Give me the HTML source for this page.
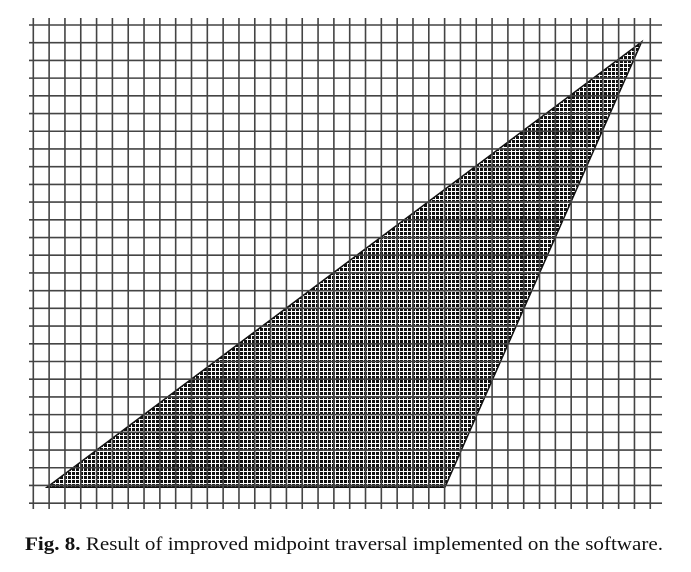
<!DOCTYPE html>
<html><head><meta charset="utf-8"><style>
html,body{margin:0;padding:0;background:#fff;width:691px;height:572px;overflow:hidden}
svg{position:absolute;left:0;top:0}
</style></head><body>
<svg id="chart" width="691" height="572">
<text x="25" y="550" textLength="638" lengthAdjust="spacingAndGlyphs" font-family="Liberation Serif, serif" font-size="18.5" fill="#111"><tspan font-weight="bold">Fig. 8.</tspan> Result of improved midpoint traversal implemented on the software.</text>
</svg>
<script>
// grid dimensions (cells) and triangle vertices in grid units
const gridCols = [40];
const gridRows = [28];
const triX = [0.87, 26.02, 38.45];
const triY = [26.1, 26.1, 0.96];

const NS = "http://www.w3.org/2000/svg";
const svg = document.getElementById('chart');
const x0 = 33.3, dx = 15.82, y0 = 25, dy = 17.71;
const sx = v => x0 + v * dx;
const sy = v => y0 + v * dy;
function mk(tag, attrs) { const e = document.createElementNS(NS, tag); for (const k in attrs) e.setAttribute(k, attrs[k]); svg.appendChild(e); return e; }

const defs = document.createElementNS(NS, 'defs');
defs.innerHTML = '<pattern id="hatch" width="4" height="4" patternUnits="userSpaceOnUse"><rect width="4" height="4" fill="#fff"/><rect width="3" height="3" fill="#111"/></pattern>';
svg.appendChild(defs);

const pts = triX.map((v, i) => sx(v) + ',' + sy(triY[i])).join(' ');
const tri = mk('polygon', {points: pts, fill: 'url(#hatch)', stroke: '#111', 'stroke-width': 1.5});



const nc = gridCols[0], nr = gridRows[0];
for (let i = 0; i < nc; i++) {
  const l = mk('line', {x1: sx(i), x2: sx(i), y1: 18, y2: 509, stroke: '#444', 'stroke-width': 1.6});
  
  
}
for (let j = 0; j < nr; j++) {
  const l = mk('line', {x1: 29, x2: 662, y1: sy(j), y2: sy(j), stroke: '#444', 'stroke-width': 1.6});
  
  
}
</script>
</body></html>
